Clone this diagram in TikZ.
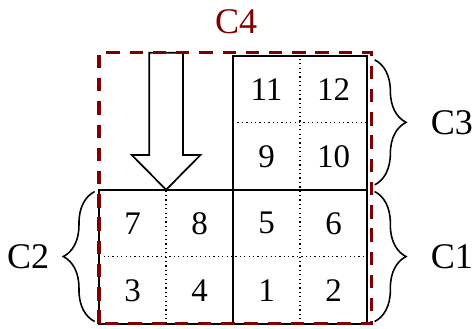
\documentclass[tikz,border=0pt]{standalone}
\usepackage{fontspec}
\setmainfont{Liberation Serif}
\usetikzlibrary{decorations.pathreplacing,positioning}
\definecolor{blkred}{HTML}{800000}

\tikzset{
  cell/.style={font=\fontsize{21}{21}\selectfont},
  grplabel/.style={font=\fontsize{23}{23}\selectfont, inner sep=0pt},
  gridline/.style={line width=1.3pt},
  subline/.style={dotted, line width=0.8pt},
  grpbrace/.style={decorate, decoration={brace, amplitude=20pt}, line width=1pt},
}

\begin{document}
\begin{tikzpicture}
    \useasboundingbox (-2.22,-0.11) rectangle (8.35,7.25);
    % Dotted split of every block
    \draw[subline] (1.5,0) -- (1.5,3);
    \draw[subline] (4.5,0) -- (4.5,6);
    \draw[subline] (0,1.5) -- (6,1.5);
    \draw[subline] (3,4.5) -- (6,4.5);
    % Solid blocks
    \draw[gridline] (0,0) rectangle (6,3);
    \draw[gridline] (3,3) rectangle (6,6);
    \draw[gridline] (3,0) -- (3,3);
    % Cell numbers
    \foreach \n/\x/\y in {1/3.75/0.75, 2/5.25/0.75, 3/0.75/0.75, 4/2.25/0.75,
                          5/3.75/2.25, 6/5.25/2.25, 7/0.75/2.25, 8/2.25/2.25,
                          9/3.75/3.75, 10/5.25/3.75, 11/3.75/5.25, 12/5.25/5.25}
        \node[cell] (n\n) at (\x,\y) {\n};
    % Block arrow
    \draw[line width=1.1pt, fill=white] (1.12,6.07) -- (1.88,6.07) -- (1.88,3.78)
        -- (2.27,3.78) -- (1.5,3) -- (0.73,3.78) -- (1.12,3.78) -- cycle;
    % Dashed outline
    \draw[blkred, line width=2.2pt, dash pattern=on 8.5pt off 6.3pt] (0,0) rectangle (6.1,6.08);
    \node[grplabel, text=blkred] (C4) at (3.07,6.76) {C4};
    % Braces
    \coordinate (c1top) at (6.17,2.96);
    \coordinate (c1bot) at (6.17,0.05);
    \coordinate (c3top) at (6.17,5.91);
    \coordinate (c3bot) at (6.17,3.11);
    \coordinate (c2bot) at (-0.1,0.05);
    \coordinate (c2top) at (-0.1,2.96);
    \draw[grpbrace] (c1top) -- (c1bot) node[grplabel, midway, right=1.24cm] (C1) {C1};
    \draw[grpbrace] (c3top) -- (c3bot) node[grplabel, midway, right=1.24cm] (C3) {C3};
    \draw[grpbrace] (c2bot) -- (c2top) node[grplabel, midway, left=1.0cm] (C2) {C2};
\end{tikzpicture}
\end{document}
